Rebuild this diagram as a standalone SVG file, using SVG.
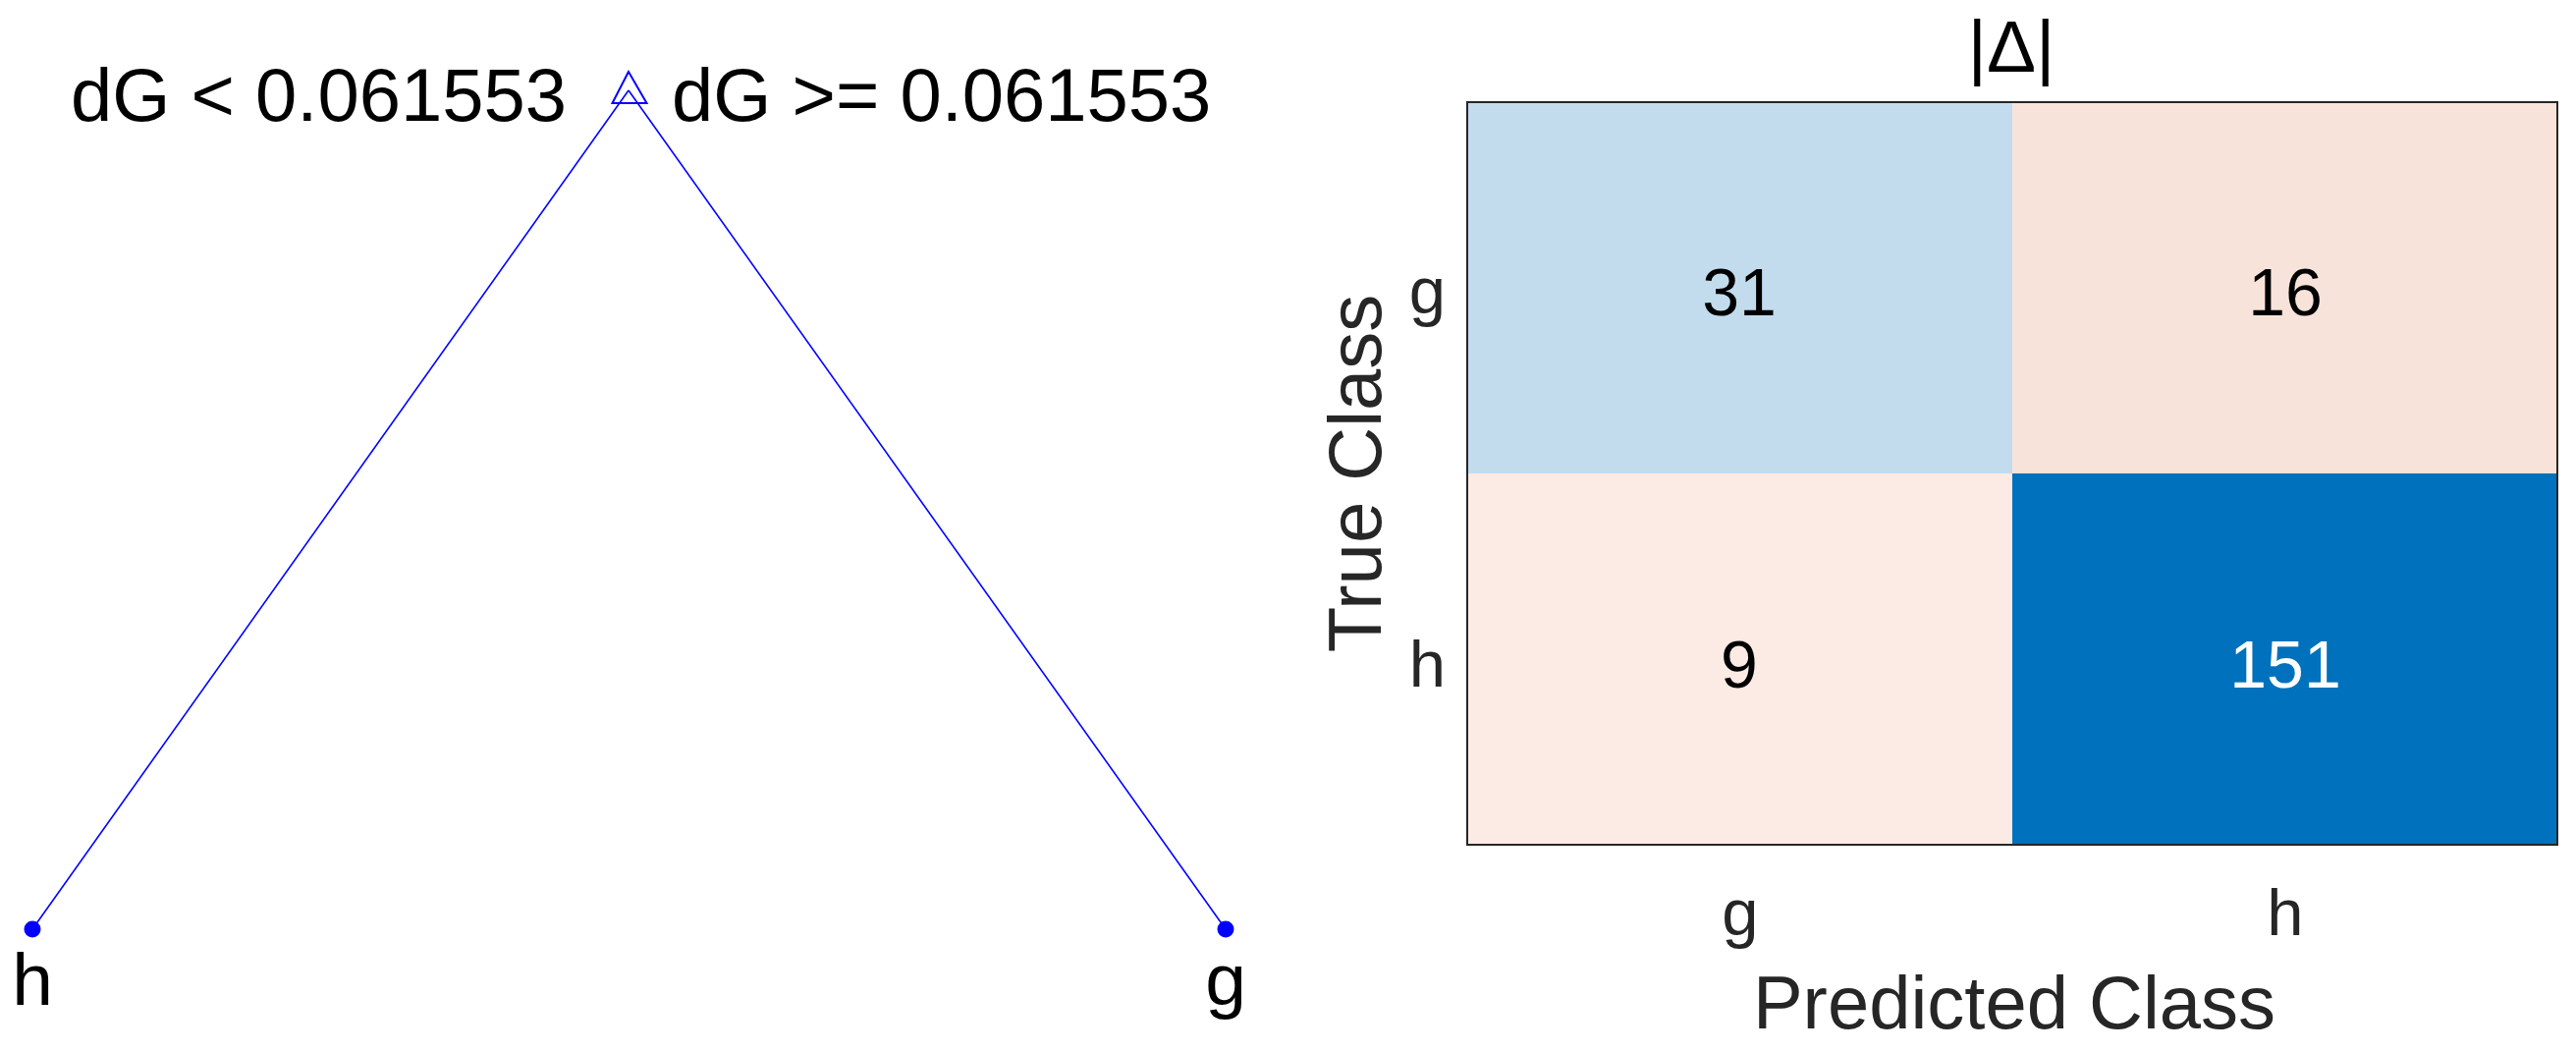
<svg xmlns="http://www.w3.org/2000/svg" width="2623" height="1071" viewBox="0 0 2623 1071">
<style>
text{font-family:"Liberation Sans",Arial,sans-serif}
.tree{font-size:76px;fill:#000}
.leaf{font-size:75px;fill:#000;text-anchor:middle}
.edge{stroke:#0000FF;stroke-width:1.6;fill:none}
.cell{font-size:68px;text-anchor:middle;fill:#000}
.tick{font-size:67px;fill:#262626}
.lab{font-size:76px;fill:#262626;text-anchor:middle}
</style>
<rect width="2623" height="1071" fill="#fff"/>
<g id="connectors">
<line class="edge" x1="640" y1="92" x2="33" y2="946"/>
<line class="edge" x1="640" y1="92" x2="1248" y2="946"/>
</g>
<g id="node-root">
<polygon points="640,73 623.5,105 658.5,105" fill="none" stroke="#0000FF" stroke-width="2"/>
<text class="tree" x="72" y="123">dG &lt; 0.061553</text>
<text class="tree" x="684" y="123">dG &gt;= 0.061553</text>
</g>
<g id="node-leaf-h">
<circle cx="33" cy="946" r="8.5" fill="#0000FF"/>
<text class="leaf" x="33" y="1023">h</text>
</g>
<g id="node-leaf-g">
<circle cx="1248" cy="946" r="8.5" fill="#0000FF"/>
<text class="leaf" x="1248" y="1023">g</text>
</g>
<g id="confusion-chart">
<text x="2048" y="73" font-size="75" text-anchor="middle" fill="#000">|Δ|</text>
<rect x="1494" y="104" width="555" height="378" fill="#C2DCEE"/>
<rect x="2049" y="104" width="555" height="378" fill="#F8E3DB"/>
<rect x="1494" y="482" width="555" height="378" fill="#FBEBE4"/>
<rect x="2049" y="482" width="555" height="378" fill="#0071BC"/>
<rect x="1494" y="104" width="1110" height="756" fill="none" stroke="#262626" stroke-width="2"/>
<text class="cell" x="1771" y="321">31</text>
<text class="cell" x="2327" y="321">16</text>
<text class="cell" x="1771" y="700">9</text>
<text class="cell" x="2327" y="700" fill="#fff" style="fill:#fff">151</text>
<text class="tick" x="1472" y="319" text-anchor="end">g</text>
<text class="tick" x="1472" y="699" text-anchor="end">h</text>
<text class="tick" x="1772" y="952" text-anchor="middle">g</text>
<text class="tick" x="2327" y="952" text-anchor="middle">h</text>
<text class="lab" x="2051" y="1047">Predicted Class</text>
<text class="lab" transform="translate(1406,482) rotate(-90)" x="0" y="0">True Class</text>
</g>
</svg>
